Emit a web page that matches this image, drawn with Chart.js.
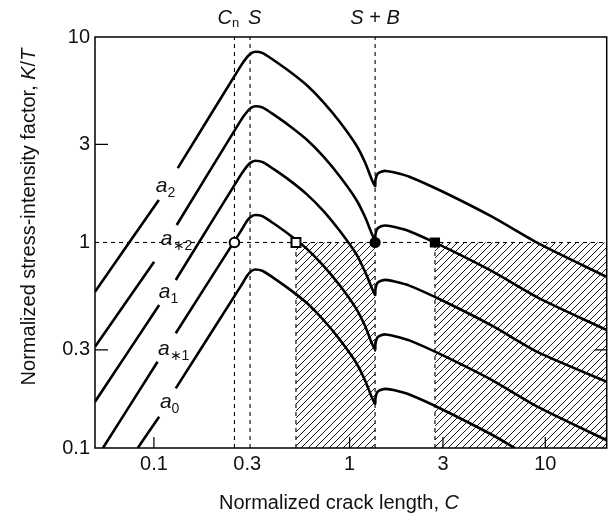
<!DOCTYPE html>
<html><head><meta charset="utf-8">
<script src="https://cdn.jsdelivr.net/npm/chart.js@4.4.1/dist/chart.umd.min.js"></script>
<style>html,body{margin:0;padding:0;background:#fff;}canvas{display:block;}</style>
</head><body>
<canvas id="c" width="615" height="520"></canvas>
<script>
// ---------- data ----------
const xTicks = [0.1, 0.3, 1, 3, 10];
const yTicks = [0.1, 0.3, 1, 3, 10];
const xRange = [0.05, 20.6];
const yRange = [0.1, 10];

// normalized crack length C (null K = gap left open for the curve label)
const a2C  = [0.05, 0.106, 0.12, 0.1324, 0.277, 0.30, 0.315, 0.33, 0.36, 0.408, 0.496, 0.603, 0.732, 0.89, 1.08, 1.20, 1.30, 1.35, 1.355, 1.37, 1.39, 1.45, 1.53, 1.70, 2.02, 2.98, 5.34, 9.21, 20.6];
const a2K  = [0.576, 1.61, null, 2.30, 7.2, 8.0, 8.35, 8.48, 8.35, 7.73, 6.78, 5.84, 4.84, 3.87, 2.98, 2.45, 2.02, 1.88, 2.0, 2.1, 2.16, 2.21, 2.23, 2.19, 2.09, 1.77, 1.335, 0.99, 0.68];

const as2C = [0.05, 0.1003, 0.115, 0.1308, 0.277, 0.30, 0.315, 0.33, 0.36, 0.408, 0.496, 0.603, 0.732, 0.89, 1.08, 1.20, 1.30, 1.35, 1.355, 1.37, 1.39, 1.45, 1.53, 1.70, 2.02, 2.98, 5.34, 9.21, 20.6];
const as2K = [0.311, 0.806, null, 1.217, 3.91, 4.34, 4.53, 4.60, 4.53, 4.20, 3.68, 3.17, 2.63, 2.10, 1.62, 1.33, 1.10, 1.02, 1.09, 1.14, 1.17, 1.20, 1.21, 1.19, 1.135, 0.96, 0.725, 0.538, 0.375];

const a1C  = [0.05, 0.1064, 0.118, 0.1293, 0.277, 0.30, 0.315, 0.33, 0.36, 0.408, 0.496, 0.603, 0.732, 0.89, 1.08, 1.20, 1.30, 1.35, 1.355, 1.37, 1.39, 1.45, 1.53, 1.70, 2.02, 2.98, 5.34, 9.21, 20.6];
const a1K  = [0.168, 0.496, null, 0.657, 2.12, 2.36, 2.46, 2.50, 2.46, 2.28, 2.00, 1.72, 1.43, 1.14, 0.88, 0.72, 0.60, 0.555, 0.59, 0.62, 0.637, 0.652, 0.658, 0.646, 0.617, 0.522, 0.394, 0.292, 0.21];

const as1C = [0.0549, 0.1044, 0.117, 0.1293, 0.277, 0.30, 0.315, 0.33, 0.36, 0.408, 0.496, 0.603, 0.732, 0.89, 1.08, 1.20, 1.30, 1.35, 1.355, 1.37, 1.39, 1.45, 1.53, 1.70, 2.02, 2.98, 5.34, 9.21, 20.6];
const as1K = [0.10, 0.263, null, 0.362, 1.13, 1.28, 1.34, 1.36, 1.34, 1.24, 1.085, 0.934, 0.774, 0.619, 0.477, 0.392, 0.323, 0.301, 0.32, 0.336, 0.346, 0.354, 0.357, 0.35, 0.334, 0.283, 0.214, 0.158, 0.109];

const a0C  = [0.0827, 0.1064, 0.118, 0.1293, 0.277, 0.30, 0.315, 0.33, 0.36, 0.408, 0.496, 0.603, 0.732, 0.89, 1.08, 1.20, 1.30, 1.35, 1.355, 1.37, 1.39, 1.45, 1.53, 1.70, 2.02, 2.98, 5.34, 7.0];
const a0K  = [0.10, 0.142, null, 0.195, 0.61, 0.69, 0.727, 0.739, 0.727, 0.673, 0.59, 0.509, 0.422, 0.337, 0.26, 0.213, 0.176, 0.164, 0.174, 0.183, 0.188, 0.192, 0.194, 0.191, 0.182, 0.154, 0.116, 0.10];

// curve labels (text, subscript) and their anchor (C, K) at label baseline
const labelText = ['a', 'a', 'a', 'a', 'a'];
const labelSub  = ['2', '\u22172', '1', '\u22171', '0'];
const labelC    = [0.1023, 0.1085, 0.106, 0.1048, 0.1073];
const labelK    = [1.76, 0.972, 0.537, 0.2835, 0.1566];

// reference lines
const Cn = 0.258, S = 0.31, SB = 1.35;
const unitK = 1;
const openCircle  = [Cn, 1];
const openSquare  = [0.532, 1];
const filledCircle = [SB, 1];
const filledSquare = [2.73, 1];
const hatchA = [0.532, SB];
const hatchB = [2.73, 20.6];

// ---------- helpers ----------
const pts = (xs, ys) => xs.map((x, i) => ({x, y: ys[i]}));
const FONT = '"Liberation Sans", Arial, Helvetica, sans-serif';
const ctx = document.getElementById('c').getContext('2d');

function hatchPattern() {
  const s = 7;
  const c = document.createElement('canvas');
  c.width = s; c.height = s;
  const g = c.getContext('2d');
  g.strokeStyle = '#000';
  g.lineWidth = 0.9;
  g.beginPath();
  g.moveTo(0, s); g.lineTo(s, 0);
  g.moveTo(-s, s); g.lineTo(s, -s);
  g.moveTo(0, 2 * s); g.lineTo(2 * s, 0);
  g.stroke();
  return ctx.createPattern(c, 'repeat');
}
const pattern = hatchPattern();

function drawRuns(c, runs, x, y, align) {
  let w = 0;
  runs.forEach(r => { c.font = r.font; r.w = c.measureText(r.t).width; w += r.w; });
  let cx = align === 'center' ? x - w / 2 : (align === 'right' ? x - w : x);
  runs.forEach(r => { c.font = r.font; c.fillText(r.t, cx, y + (r.dy || 0)); cx += r.w; });
}

const curve = (xs, ys) => ({
  data: pts(xs, ys), showLine: true, borderColor: '#000', borderWidth: 2.6,
  pointRadius: 0, tension: 0.22, spanGaps: false, fill: false, borderCapStyle: 'butt', borderJoinStyle: 'round'
});
const dashed = (data) => ({
  data, showLine: true, borderColor: '#000', borderWidth: 1.1, borderDash: [4, 4],
  pointRadius: 0, fill: false
});
const marker = (p, style, r, filled) => ({
  data: [{x: p[0], y: p[1]}], showLine: false, pointStyle: style, pointRadius: r,
  pointBackgroundColor: filled ? '#000' : '#fff', pointBorderColor: '#000', pointBorderWidth: 2
});
const hatch = (range) => ({
  data: [{x: range[0], y: unitK}, {x: range[1], y: unitK}], showLine: true,
  borderWidth: 0, borderColor: 'rgba(0,0,0,0)', pointRadius: 0, fill: 'start', backgroundColor: pattern
});

const decor = {
  id: 'decor',
  afterDraw(chart) {
    const c = chart.ctx, xs = chart.scales.x, ys = chart.scales.y;
    const {left, right, top, bottom} = chart.chartArea;
    c.save();
    c.strokeStyle = '#000'; c.fillStyle = '#111';
    // frame
    c.lineWidth = 1.5;
    c.strokeRect(left, top, right - left, bottom - top);
    // inward ticks
    c.lineWidth = 1.2;
    c.beginPath();
    [0.1, 1, 3, 10].forEach(v => { const p = xs.getPixelForValue(v); c.moveTo(p, bottom); c.lineTo(p, bottom - 11); });
    [0.3, 3].forEach(v => { const p = ys.getPixelForValue(v); c.moveTo(left, p); c.lineTo(left + 13, p); });
    [0.3].forEach(v => { const p = ys.getPixelForValue(v); c.moveTo(right, p); c.lineTo(right - 12, p); });
    c.stroke();
    // top labels
    c.textBaseline = 'alphabetic'; c.textAlign = 'left';
    const I20 = 'italic 20px ' + FONT, N20 = '20px ' + FONT, N13 = '13px ' + FONT;
    const pCn = xs.getPixelForValue(Cn), pS = xs.getPixelForValue(S), pSB = xs.getPixelForValue(SB);
    drawRuns(c, [{t: 'C', font: I20}, {t: 'n', font: N13, dy: 3}], pCn - 17, 24, 'left');
    drawRuns(c, [{t: 'S', font: I20}], pS - 2, 24, 'left');
    drawRuns(c, [{t: 'S', font: I20}, {t: ' + ', font: N20}, {t: 'B', font: I20}], pSB, 24, 'center');
    // curve labels
    const I21 = 'italic 21px ' + FONT, N14 = '14px ' + FONT;
    labelText.forEach((t, i) => {
      const px = xs.getPixelForValue(labelC[i]), py = ys.getPixelForValue(labelK[i]);
      drawRuns(c, [{t, font: I21}, {t: labelSub[i], font: N14, dy: 5}], px, py, 'left');
    });
    // axis titles
    drawRuns(c, [{t: 'Normalized crack length, ', font: N20}, {t: 'C', font: I20}], 339, 509, 'center');
    c.translate(35, 217);
    c.rotate(-Math.PI / 2);
    drawRuns(c, [{t: 'Normalized stress-intensity factor, ', font: N20}, {t: 'K', font: I20}, {t: '/', font: N20}, {t: 'T', font: I20}], 0, 0, 'center');
    c.restore();
  }
};

new Chart(ctx, {
  type: 'scatter',
  data: {
    datasets: [
      marker(openCircle, 'circle', 4.8, false),
      marker(openSquare, 'rect', 6.3, false),
      marker(filledCircle, 'circle', 4.6, true),
      marker(filledSquare, 'rect', 5.8, true),
      curve(a2C, a2K),
      curve(as2C, as2K),
      curve(a1C, a1K),
      curve(as1C, as1K),
      curve(a0C, a0K),
      dashed([{x: xRange[0], y: unitK}, {x: xRange[1], y: unitK}]),
      dashed([{x: Cn, y: yRange[0]}, {x: Cn, y: yRange[1]}]),
      dashed([{x: S, y: yRange[0]}, {x: S, y: yRange[1]}]),
      dashed([{x: SB, y: yRange[0]}, {x: SB, y: yRange[1]}]),
      dashed([{x: hatchA[0], y: yRange[0]}, {x: hatchA[0], y: unitK}]),
      dashed([{x: hatchB[0], y: yRange[0]}, {x: hatchB[0], y: unitK}]),
      hatch(hatchA),
      hatch(hatchB)
    ]
  },
  options: {
    responsive: false, animation: false,
    layout: {padding: {top: 37, right: 6, left: 0, bottom: 0}},
    plugins: {legend: {display: false}, tooltip: {enabled: false}},
    scales: {
      x: {
        type: 'logarithmic', position: 'bottom', min: xRange[0], max: xRange[1],
        grid: {display: false, drawTicks: false}, border: {display: false},
        afterBuildTicks: s => { s.ticks = xTicks.map(v => ({value: v})); },
        afterFit: s => { s.height = 72; },
        ticks: {autoSkip: false, maxRotation: 0, padding: 4, color: '#111',
          font: {family: FONT, size: 20}, callback: v => String(v)}
      },
      y: {
        type: 'logarithmic', position: 'left', min: yRange[0], max: yRange[1],
        grid: {display: false, drawTicks: false}, border: {display: false},
        afterBuildTicks: s => { s.ticks = yTicks.map(v => ({value: v})); },
        afterFit: s => { s.width = 95; },
        ticks: {autoSkip: false, padding: 5, color: '#111',
          font: {family: FONT, size: 20}, callback: v => String(v)}
      }
    }
  },
  plugins: [decor]
});
</script>
</body></html>
